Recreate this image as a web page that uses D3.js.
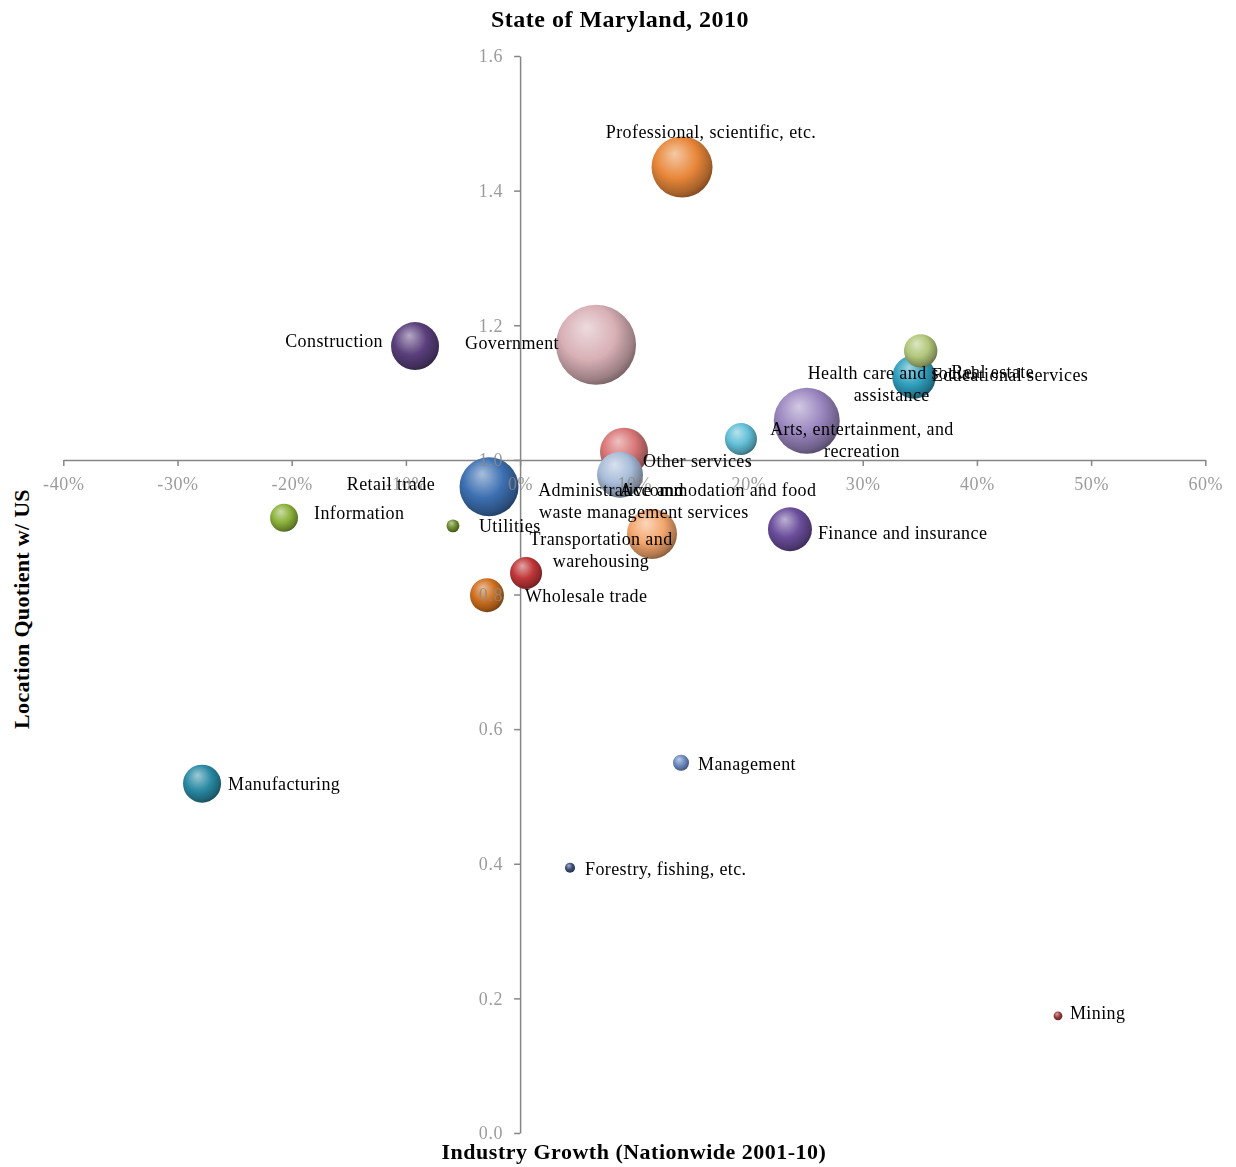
<!DOCTYPE html>
<html>
<head>
<meta charset="utf-8">
<script src="https://cdn.jsdelivr.net/npm/d3@7"></script>
<style>
  body { margin: 0; background: #fff; }
  svg text { font-family: "Liberation Serif", "DejaVu Serif", serif; }
</style>
</head>
<body>
<div id="viz"></div>
<script>
// Data
const sectors = [
  'Government', 'Health care and social assistance', 'Professional, scientific, etc.',
  'Retail trade', 'Accommodation and food services', 'Construction', 'Other services',
  'Administrative and waste management', 'Finance and insurance', 'Educational services',
  'Manufacturing', 'Wholesale trade', 'Real estate', 'Arts, entertainment, and recreation',
  'Transportation and warehousing', 'Information', 'Management', 'Utilities',
  'Forestry, fishing, etc.', 'Mining'
];
const growth = [
  0.0665, 0.251, 0.1418, -0.0272, 0.1155, -0.092, 0.091,
  0.0875, 0.2363, 0.3449, -0.2785, -0.029, 0.3508, 0.1934,
  0.0052, -0.2067, 0.1409, -0.0588, 0.0437, 0.471
];
const quotient = [
  1.171, 1.058, 1.435, 0.960, 0.890, 1.169, 1.012,
  0.978, 0.897, 1.123, 0.519, 0.799, 1.162, 1.031,
  0.832, 0.914, 0.550, 0.902, 0.394, 0.174
];
const employment = [
  500, 340, 291, 272, 195, 180, 180,
  165, 151, 147, 113, 90, 87, 80,
  80, 61, 20, 13, 8, 6
];
const xTicks = [-0.4, -0.3, -0.2, -0.1, 0, 0.1, 0.2, 0.3, 0.4, 0.5, 0.6];
const yTicks = [0, 0.2, 0.4, 0.6, 0.8, 1.0, 1.2, 1.4, 1.6];

// Styling
const palette = [
  '#d8b0b6', '#9a86bf', '#e8873a', '#3d70b2', '#f4a66c', '#5a3f7c', '#d97677',
  '#a8bcd9', '#6a4d9b', '#2f9fbe', '#2a8aa4', '#cf6f1e', '#b2c77a', '#62bfd7',
  '#bf3638', '#8bb13a', '#6c89bf', '#6e8b2e', '#3a4d78', '#9c3a3a'
];
// label placement relative to bubble centre: [dx, dy, anchor]
const labelPos = [
  [-37, -2, 'end'], [85, -48, 'middle'], [29, -35, 'middle'], [-54, -3, 'end'],
  [66, -44, 'middle'], [-32, -5, 'end'], [19, 9, 'start'], [-9, 15, 'middle'],
  [28, 3, 'start'], [96, -2, 'middle'], [26, 0, 'start'], [38, 1, 'start'],
  [72, 21, 'middle'], [121, -10, 'middle'], [75, -34, 'middle'], [30, -5, 'start'],
  [17, 1, 'start'], [26, 0, 'start'], [15, 1, 'start'], [12, -3, 'start']
];
const labelLines = {
  'Health care and social assistance': ['Health care and social', 'assistance'],
  'Accommodation and food services': ['Accommodation and food', 'services'],
  'Administrative and waste management': ['Administrative and', 'waste management'],
  'Arts, entertainment, and recreation': ['Arts, entertainment, and', 'recreation'],
  'Transportation and warehousing': ['Transportation and', 'warehousing']
};

const W = 1236, H = 1167;
const svg = d3.select('#viz').append('svg')
  .attr('width', W).attr('height', H);

const x = d3.scaleLinear().domain([-0.4, 0.6]).range([63.3, 1205.3]);
const y = d3.scaleLinear().domain([0, 1.6]).range([1133, 56]);
const r = d3.scaleSqrt().domain([0, 500]).range([0, 40]);

const data = sectors.map((s, i) => ({
  name: s, gx: growth[i], lq: quotient[i], size: employment[i], i
}));

// Gradients for the 3D bubble look
const defs = svg.append('defs');
data.forEach(d => {
  const base = d3.color(palette[d.i]);
  const g = defs.append('radialGradient')
    .attr('id', 'g' + d.i)
    .attr('cx', '42%').attr('cy', '40%').attr('r', '62%')
    .attr('fx', '38%').attr('fy', '28%');
  g.append('stop').attr('offset', '0%').attr('stop-color', d3.interpolateRgb(base, '#fff')(0.55));
  g.append('stop').attr('offset', '55%').attr('stop-color', base.formatHex());
  g.append('stop').attr('offset', '88%').attr('stop-color', base.darker(0.9).formatHex());
  g.append('stop').attr('offset', '100%').attr('stop-color', base.darker(1.6).formatHex());
});

const fmtPct = d => Math.round(d * 100) + '%';
const fmtY = d3.format('.1f');

function drawAxes(layer, withLines) {
  const xa = layer.append('g')
    .attr('transform', `translate(0,${y(1.0)})`)
    .call(d3.axisBottom(x).tickValues(xTicks).tickFormat(fmtPct)
      .tickSize(6).tickSizeOuter(0).tickPadding(11));
  const ya = layer.append('g')
    .attr('transform', `translate(${x(0)},0)`)
    .call(d3.axisLeft(y).tickValues(yTicks).tickFormat(fmtY)
      .tickSize(6).tickSizeOuter(0).tickPadding(11));
  [xa, ya].forEach(a => {
    a.selectAll('text').attr('fill', '#8a8a8a')
      .style('font-size', '18px').style('letter-spacing', '0.6px');
    a.selectAll('line').attr('stroke', '#868686').attr('stroke-width', 1.5);
    a.select('.domain').attr('stroke', '#868686').attr('stroke-width', 1.5);
    if (withLines) a.selectAll('text').remove();
    else { a.selectAll('line').remove(); a.select('.domain').remove(); }
  });
}

// axis lines under bubbles
drawAxes(svg.append('g'), true);

// Bubbles
svg.append('g').selectAll('circle')
  .data(data)
  .join('circle')
  .attr('cx', d => x(d.gx))
  .attr('cy', d => y(d.lq))
  .attr('r', d => r(d.size))
  .attr('fill', d => `url(#g${d.i})`);

// tick labels above bubbles
drawAxes(svg.append('g').attr('opacity', 0.85), false);

// Data labels
const labels = svg.append('g')
  .style('font-size', '18px').style('letter-spacing', '0.4px')
  .attr('fill', '#000');
data.forEach(d => {
  const [dx, dy, anchor] = labelPos[d.i];
  const lines = labelLines[d.name] || [d.name];
  const t = labels.append('text')
    .attr('x', x(d.gx) + dx)
    .attr('y', y(d.lq) + dy)
    .attr('dy', '0.35em')
    .attr('text-anchor', anchor);
  lines.forEach((ln, k) => {
    t.append('tspan')
      .attr('x', x(d.gx) + dx)
      .attr('dy', k === 0 ? '0.35em' : '22px')
      .text(ln);
  });
});

// Titles
svg.append('text')
  .attr('x', 620).attr('y', 19).attr('dy', '0.35em')
  .attr('text-anchor', 'middle')
  .style('font-size', '24px').style('font-weight', 'bold').style('letter-spacing', '0.5px')
  .text('State of Maryland, 2010');

svg.append('text')
  .attr('x', 634).attr('y', 1151).attr('dy', '0.35em')
  .attr('text-anchor', 'middle')
  .style('font-size', '22px').style('font-weight', 'bold').style('letter-spacing', '0.5px')
  .text('Industry Growth (Nationwide 2001-10)');

svg.append('text')
  .attr('transform', 'translate(21,609) rotate(-90)')
  .attr('dy', '0.35em')
  .attr('text-anchor', 'middle')
  .style('font-size', '22px').style('font-weight', 'bold').style('letter-spacing', '0.3px')
  .text('Location Quotient w/ US');
</script>
</body>
</html>
